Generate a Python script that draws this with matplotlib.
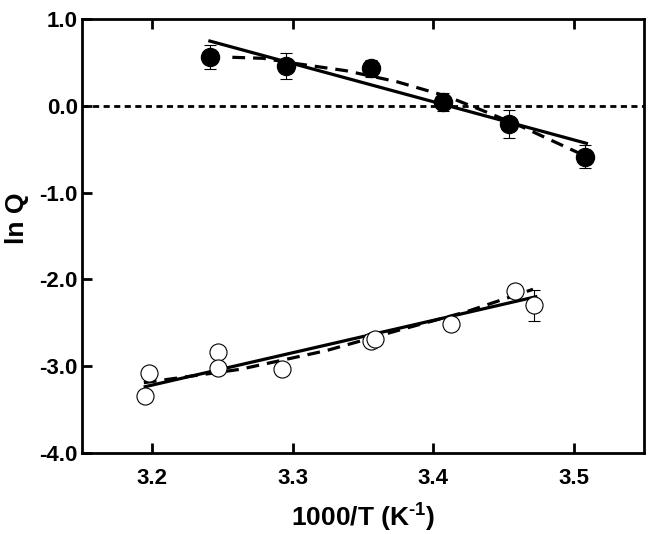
import matplotlib
matplotlib.use("Agg")
import matplotlib.pyplot as plt
import numpy as np

plt.rcParams['font.family'] = ['Liberation Sans', 'DejaVu Sans']
plt.rcParams['mathtext.fontset'] = 'custom'
plt.rcParams['mathtext.rm'] = 'Liberation Sans:bold'
plt.rcParams['mathtext.default'] = 'rm'

# filled circles (with error bars)
x_filled = [3.241, 3.295, 3.356, 3.407, 3.454, 3.508]
y_filled = [0.566, 0.462, 0.43, 0.044, -0.206, -0.586]
err_filled = [0.14, 0.15, 0.10, 0.10, 0.16, 0.13]

# linear fit (solid) and curve (dashed) for filled
fit_filled_x = [3.241, 3.509]
fit_filled_y = [0.746, -0.432]
dash_filled_x = [3.257, 3.279, 3.298, 3.338, 3.374, 3.409, 3.433, 3.464, 3.504]
dash_filled_y = [0.559, 0.547, 0.497, 0.404, 0.278, 0.113, -0.04, -0.248, -0.547]

# open circles
x_open = [3.1945, 3.198, 3.2467, 3.2467, 3.2924, 3.3554, 3.3587, 3.4125, 3.458, 3.472]
y_open = [-3.34, -3.075, -2.84, -3.024, -3.032, -2.71, -2.683, -2.51, -2.134, -2.30]
err_open = [0, 0, 0, 0, 0, 0, 0, 0, 0, 0.18]

fit_open_x = [3.195, 3.473]
fit_open_y = [-3.236, -2.20]
dash_open_x = [3.194, 3.2625, 3.324, 3.376, 3.4237, 3.471]
dash_open_y = [-3.19, -3.036, -2.82, -2.583, -2.372, -2.114]

fig = plt.figure(figsize=(6.54, 5.34), dpi=100)
ax = fig.add_axes([0.1254, 0.1517, 0.8593, 0.8127])

ax.axhline(0, color='black', lw=2, ls=(0, (2.2, 1.6)), zorder=1)

ax.plot(fit_filled_x, fit_filled_y, color='black', lw=2.3, zorder=2)
ax.plot(dash_filled_x, dash_filled_y, color='black', lw=2.3, ls=(0, (4, 2.5)), zorder=2)
ax.plot(fit_open_x, fit_open_y, color='black', lw=2.3, zorder=2)
ax.plot(dash_open_x, dash_open_y, color='black', lw=2.3, ls=(0, (4, 2.5)), zorder=2)

ax.errorbar(x_filled, y_filled, yerr=err_filled, fmt='o', color='black',
            ms=13, ecolor='black', elinewidth=0.8, capsize=4.5, capthick=0.8, zorder=3)
ax.errorbar(x_open, y_open, yerr=err_open, fmt='o', mfc='white', mec='black', mew=0.8,
            ms=12.3, ecolor='black', elinewidth=0.8, capsize=4.5, capthick=0.8, zorder=3)

ax.set_xlim(3.15, 3.55)
ax.set_ylim(-4.0, 1.0)
ax.set_xticks([3.2, 3.3, 3.4, 3.5])
ax.set_yticks([1.0, 0.0, -1.0, -2.0, -3.0, -4.0])
ax.set_yticklabels(['1.0', '0.0', '-1.0', '-2.0', '-3.0', '-4.0'])
ax.tick_params(axis='both', direction='in', length=7, width=2, labelsize=16)
ax.tick_params(axis='x', top=True, pad=11)
ax.tick_params(axis='y', pad=3)
for lab in ax.get_xticklabels() + ax.get_yticklabels():
    lab.set_fontweight('bold')
for sp in ax.spines.values():
    sp.set_linewidth(2)

ax.set_xlabel(r'1000/T (K$^{\text{-}1}$)', fontsize=19, fontweight='bold', labelpad=9)
ax.set_ylabel('ln Q', fontsize=19, fontweight='bold')
ax.yaxis.set_label_coords(-0.094, 0.54)

fig.savefig('out.png', dpi=100)
